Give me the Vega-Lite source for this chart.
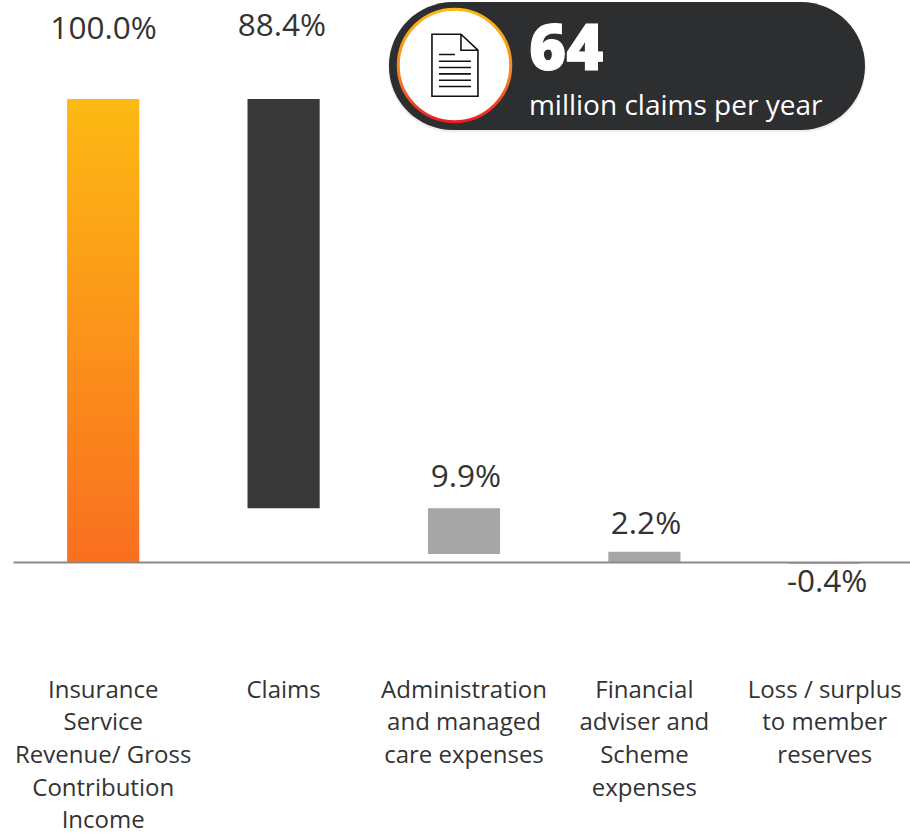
{
"$schema":"https://vega.github.io/schema/vega-lite/v6.json",
"width":910,"height":836,"padding":0,"autosize":{"type":"none"},
"background":"white",
"config":{"view":{"stroke":null},"font":"Open Sans"},
"datasets":{
"bars":[
{"item":"Insurance\nService\nRevenue/ Gross\nContribution\nIncome","low":0,"high":100,"kind":"income","label":"100.0%","labelAt":114.9,"labelX":0.003},
{"item":"Claims","low":11.6,"high":100,"kind":"claims","label":"88.4%","labelAt":115.6,"labelX":0.992},
{"item":"Administration\nand managed\ncare expenses","low":1.7,"high":11.6,"kind":"expense","label":"9.9%","labelAt":18.2,"labelX":2.012},
{"item":"Financial\nadviser and\nScheme\nexpenses","low":0,"high":2.2,"kind":"expense","label":"2.2%","labelAt":8.0,"labelX":3.01},
{"item":"Loss / surplus\nto member\nreserves","low":-0.4,"high":0,"kind":"expense","label":"-0.4%","labelAt":-4.5,"labelX":4.014}
],
"badge":[{"left":1.585,"right":4.224,"top":120.95,"bottom":93.3,"shadowTop":120.6,"shadowBottom":92.8,"shadowLeft":1.58,"shadowRight":4.229,"cx":1.9485,"cy":107.25,"docX":1.951,"docY":107.3,"textX":2.361,"numberY":110.4,"captionY":98.2,"number":"64","caption":"million claims per year"}]
},
"layer":[
{"layer":[
{"data":{"name":"bars"},"transform":[{"filter":"datum.kind !== 'income'"}],
"mark":{"type":"bar"},
"encoding":{
"x":{"field":"item","type":"nominal","sort":null,
"scale":{"domain":["Insurance\nService\nRevenue/ Gross\nContribution\nIncome","Claims","Administration\nand managed\ncare expenses","Financial\nadviser and\nScheme\nexpenses","Loss / surplus\nto member\nreserves"],"range":[13,915],"paddingInner":0.6,"paddingOuter":0.3},
"axis":{"title":null,"orient":"bottom","offset":-274,"ticks":false,"domainColor":"#8a8a8a","domainWidth":2,"zindex":1,"labelAngle":0,"labelPadding":116,"labelFontSize":24,"labelColor":"#333333","labelFont":"Open Sans","labelLimit":0,"labelBaseline":"top","labelLineHeight":32.7,"labelExpr":"split(datum.label,'\\n')","labelOverlap":false}},
"y":{"field":"low","type":"quantitative","scale":{"domain":[-59.18,121.38],"nice":false,"zero":false},"axis":null},
"y2":{"field":"high"},
"color":{"field":"kind","type":"nominal","scale":{"domain":["claims","expense"],"range":["#383838","#A6A6A6"]},"legend":null}
}},
{"data":{"name":"bars"},"transform":[{"filter":"datum.kind === 'income'"}],
"mark":{"type":"bar","fill":{"gradient":"linear","x1":0,"y1":0,"x2":0,"y2":1,"stops":[{"offset":0,"color":"#FDB913"},{"offset":1,"color":"#F96F20"}]}},
"encoding":{
"x":{"field":"item","type":"nominal","sort":null},
"y":{"field":"low","type":"quantitative"},
"y2":{"field":"high"}
}}
]},
{"layer":[
{"data":{"name":"badge"},"mark":{"type":"rect","color":"#000000","opacity":0.07,"cornerRadius":65},
"encoding":{"x":{"field":"shadowLeft","type":"quantitative","scale":{"domain":[-0.57095,4.47339],"nice":false,"zero":false},"axis":null},"x2":{"field":"shadowRight"},"y":{"field":"shadowBottom","type":"quantitative"},"y2":{"field":"shadowTop"}}},
{"data":{"name":"badge"},"mark":{"type":"rect","color":"#2D2E30","cornerRadius":64},
"encoding":{"x":{"field":"left","type":"quantitative"},"x2":{"field":"right"},"y":{"field":"bottom","type":"quantitative"},"y2":{"field":"top"}}},
{"data":{"name":"badge"},"mark":{"type":"point","filled":true,"size":12656,"shape":"circle","opacity":1,"fill":"#FFFFFF","strokeWidth":3,"stroke":{"gradient":"linear","x1":0,"y1":0,"x2":0,"y2":1,"stops":[{"offset":0,"color":"#FDB913"},{"offset":0.6,"color":"#F58025"},{"offset":1,"color":"#ED1C24"}]}},
"encoding":{"x":{"field":"cx","type":"quantitative"},"y":{"field":"cy","type":"quantitative"}}},
{"data":{"name":"badge"},"mark":{"type":"point","filled":false,"opacity":1,"size":10000,"stroke":"#111111","strokeWidth":1.6,"fill":"#FFFFFF","shape":"M-.46 -.62L.12 -.62L.46 -.3L.46 .62L-.46 .62ZM.12 -.62L.12 -.3L.46 -.3M-.32 -.214L0 -.214M-.32 -.08L.32 -.08M-.32 .046L.32 .046M-.32 .174L.32 .174M-.32 .3L.32 .3M-.32 .426L.32 .426"},
"encoding":{"x":{"field":"docX","type":"quantitative"},"y":{"field":"docY","type":"quantitative"}}},
{"data":{"name":"badge"},"mark":{"type":"text","font":"Open Sans","fontWeight":800,"fontSize":63.5,"color":"#FFFFFF","stroke":"#FFFFFF","strokeWidth":1,"align":"left","baseline":"middle"},
"encoding":{"x":{"field":"textX","type":"quantitative"},"y":{"field":"numberY","type":"quantitative"},"text":{"field":"number"}}},
{"data":{"name":"badge"},"mark":{"type":"text","font":"Open Sans","fontSize":28,"color":"#FFFFFF","align":"left","baseline":"middle"},
"encoding":{"x":{"field":"textX","type":"quantitative"},"y":{"field":"captionY","type":"quantitative"},"text":{"field":"caption"}}},
{"data":{"name":"bars"},
"mark":{"type":"text","fontSize":31.5,"color":"#333333","font":"Open Sans","align":"center","baseline":"middle"},
"encoding":{
"x":{"field":"labelX","type":"quantitative"},
"y":{"field":"labelAt","type":"quantitative"},
"text":{"field":"label"}
}}
]}
],
"resolve":{"scale":{"x":"independent"},"axis":{"x":"independent"}}
}
